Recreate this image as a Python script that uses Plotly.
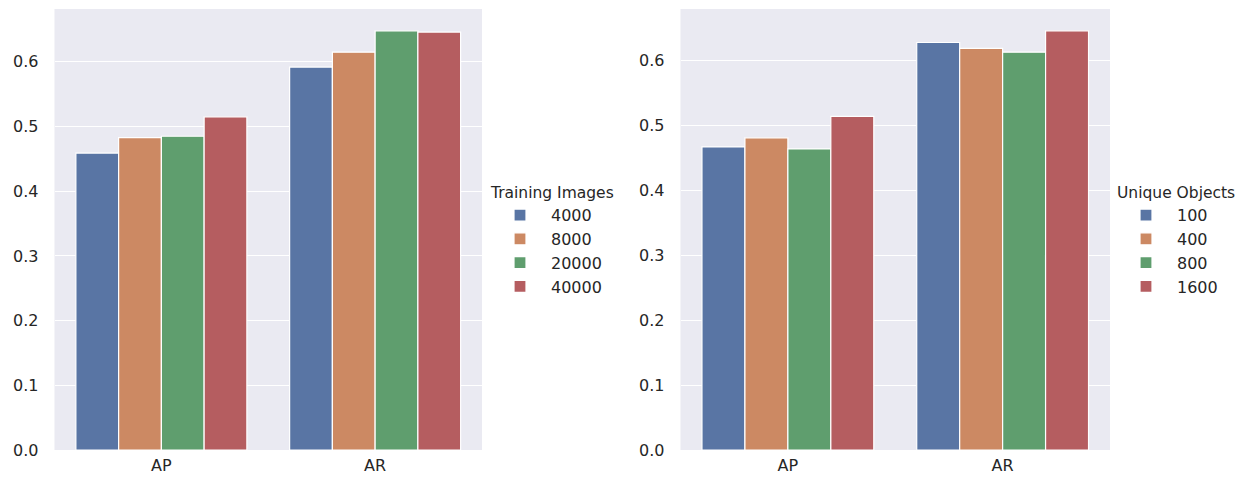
import plotly.graph_objects as go

metrics = ["AP", "AR"]

train_labels = ["4000", "8000", "20000", "40000"]
train_values = [
    [0.459, 0.592],
    [0.483, 0.615],
    [0.485, 0.648],
    [0.515, 0.646],
]

obj_labels = ["100", "400", "800", "1600"]
obj_values = [
    [0.467, 0.628],
    [0.481, 0.619],
    [0.464, 0.613],
    [0.514, 0.646],
]

colors = ["#5975A4", "#CC8963", "#5F9E6E", "#B55D60"]

W, H = 1243, 485
FONT = "DejaVu Sans"
TXT = "#262626"

fig = go.Figure()

for i, (lab, vals) in enumerate(zip(train_labels, train_values)):
    fig.add_trace(go.Bar(
        x=metrics, y=vals, name=lab, xaxis="x", yaxis="y",
        marker=dict(color=colors[i], line=dict(color="white", width=1.2)),
        legend="legend", legendgroup="t" + lab,
    ))

for i, (lab, vals) in enumerate(zip(obj_labels, obj_values)):
    fig.add_trace(go.Bar(
        x=metrics, y=vals, name=lab, xaxis="x2", yaxis="y2",
        marker=dict(color=colors[i], line=dict(color="white", width=1.2)),
        legend="legend2", legendgroup="o" + lab,
    ))

ytop = 1 - 9 / H
ybot = 1 - 450 / H

max1 = max(max(v) for v in train_values) * 1.052
max2 = max(max(v) for v in obj_values) * 1.052

axis_common = dict(
    showline=False, zeroline=False, ticks="", automargin=False,
    tickfont=dict(family=FONT, size=16, color=TXT),
)

tickvals = [0.0, 0.1, 0.2, 0.3, 0.4, 0.5, 0.6]
ticktext = ["0.0", "0.1", "0.2", "0.3", "0.4", "0.5", "0.6"]

legend_common = dict(
    orientation="v", xanchor="left", yanchor="middle",
    bgcolor="rgba(0,0,0,0)", borderwidth=0,
    font=dict(family=FONT, size=16, color=TXT),
    tracegroupgap=0, itemclick=False, itemwidth=52,
)

fig.update_layout(
    width=W, height=H,
    margin=dict(l=0, r=0, t=0, b=0, autoexpand=False),
    paper_bgcolor="white", plot_bgcolor="#EAEAF2",
    barmode="group", bargap=0.2, bargroupgap=0,
    font=dict(family=FONT, color=TXT),
    xaxis=dict(domain=[54.5 / W, 482 / W], anchor="y", showgrid=False,
               ticklabelstandoff=4, **axis_common),
    yaxis=dict(domain=[ybot, ytop], anchor="x", range=[0, max1],
               tickvals=tickvals, ticktext=ticktext,
               showgrid=True, gridcolor="white", gridwidth=1.3,
               ticklabelstandoff=15, **axis_common),
    xaxis2=dict(domain=[680.5 / W, 1110 / W], anchor="y2", showgrid=False,
                ticklabelstandoff=4, **axis_common),
    yaxis2=dict(domain=[ybot, ytop], anchor="x2", range=[0, max2],
                tickvals=tickvals, ticktext=ticktext,
                showgrid=True, gridcolor="white", gridwidth=1.3,
                ticklabelstandoff=15, **axis_common),
    legend=dict(x=489 / W, y=1 - 241 / H,
                title=dict(text="Training Images", font=dict(family=FONT, size=15.5, color=TXT)),
                **legend_common),
    legend2=dict(x=1115 / W, y=1 - 241 / H,
                 title=dict(text="Unique Objects", font=dict(family=FONT, size=15.5, color=TXT)),
                 **legend_common),
)

fig.write_html(
    "out.html",
    config={"displayModeBar": False},
    post_script="document.body.style.margin='0';document.body.style.padding='0';",
)
